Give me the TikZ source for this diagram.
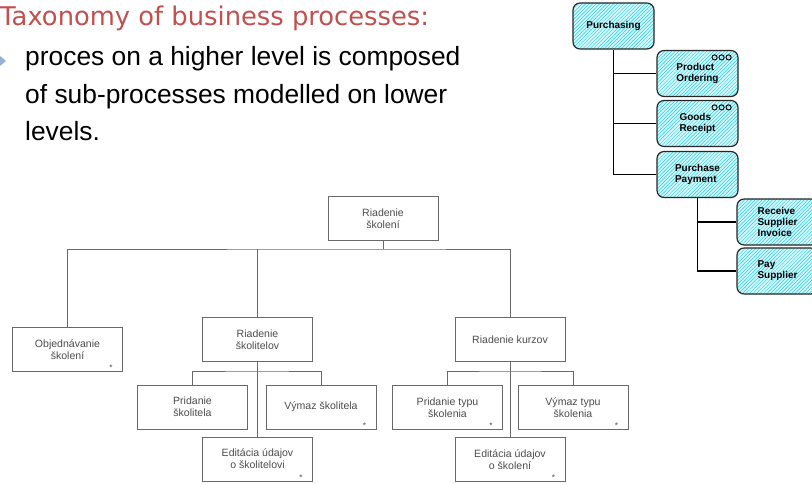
\documentclass[tikz,border=0pt]{standalone}
\usepackage{fontspec}
\setmainfont{Liberation Sans}
\newfontfamily\titlefont{DejaVu Sans}
\usetikzlibrary{patterns}
\definecolor{titlered}{RGB}{192,80,77}
\definecolor{bulletblue}{RGB}{150,178,210}
\definecolor{boxgray}{RGB}{105,105,105}
\definecolor{textgray}{RGB}{75,75,75}
\definecolor{hatchcyan}{RGB}{45,200,225}
\definecolor{palecyan}{RGB}{212,250,252}

\begin{document}
\begin{tikzpicture}[x = 0.03cm, y = -0.03cm,
	proc/.style = {draw = boxgray, line width = 0.7pt, minimum width = 3.3cm, minimum height = 1.32cm, inner sep = 1pt, align = center, text = textgray, font = \fontsize{9}{10}\selectfont},
	marked/.style = {label = {[starnode]south east:*}},
	starnode/.style = {anchor = south east, inner sep = 0pt, xshift = -0.3cm, yshift = 0.03cm, text = textgray, font = \fontsize{7}{7}\selectfont},
	aris/.style = {draw = black!85, line width = 1pt, rounded corners = 6pt, minimum width = 2.43cm, minimum height = 1.38cm, inner sep = 1pt, align = left, font = \bfseries\fontsize{8.5}{9.5}\selectfont, preaction = {fill = palecyan}, pattern = north east lines, pattern color = hatchcyan},
	link/.style = {draw = boxgray, line width = 0.7pt},
	branch/.style = {draw = black, line width = 1.5pt}]
	\useasboundingbox (0, 0) rectangle (812, 484);
%%%%%%%%%%%
	\node[anchor = base west, inner sep = 0pt, text = titlered, font = \titlefont\fontsize{22}{26}\selectfont] (title) at (0, 26) {Taxonomy of business processes:};
	\fill[bulletblue] (0, 56) -- (6, 61) -- (0, 66) -- cycle;
	\node[anchor = base west, inner sep = 0pt, font = \fontsize{22.5}{26}\selectfont] (line1) at (25, 66) {proces on a higher level is composed};
	\node[anchor = base west, inner sep = 0pt, font = \fontsize{22.5}{26}\selectfont] (line2) at (25, 103.5) {of sub-processes modelled on lower};
	\node[anchor = base west, inner sep = 0pt, font = \fontsize{22.5}{26}\selectfont] (line3) at (25, 141) {levels.};
%%%%%%%%%%%
	\node[aris] (buy) at (613.5, 26) {Purchasing};
	\node[aris] (order) at (697.5, 73.5) {Product\\Ordering};
	\node[aris] (goods) at (697.5, 123.5) {Goods\\Receipt};
	\node[aris] (payment) at (697.5, 174.5) {Purchase\\Payment};
	\node[aris] (invoice) at (777.5, 222) {Receive\\Supplier\\Invoice};
	\node[aris] (pay) at (777.5, 271) {Pay\\Supplier};
	\foreach \dx in {-24, -17, -10} {
		\draw[thick] ([shift = {(\dx, 7.5)}]order.north east) circle (2.2pt);
		\draw[thick] ([shift = {(\dx, 7.5)}]goods.north east) circle (2.2pt);
	}
	\draw[branch] (buy.south) |- (payment.west);
	\draw[branch] (buy.south |- order.west) -- (order.west);
	\draw[branch] (buy.south |- goods.west) -- (goods.west);
	\draw[branch] (payment.south) |- (pay.west);
	\draw[branch] (payment.south |- invoice.west) -- (invoice.west);
%%%%%%%%%%%
	\node[proc] (skol) at (383, 218.5) {Riadenie\\školení};
	\node[proc, marked] (objed) at (67.5, 349.5) {Objednávanie\\školení};
	\node[proc] (skolit) at (257.5, 339.5) {Riadenie\\školitelov};
	\node[proc] (kurz) at (510, 339.5) {Riadenie kurzov};
	\node[proc] (prid1) at (192.5, 407) {Pridanie\\školitela};
	\node[proc, marked] (vymaz1) at (321, 407) {Výmaz školitela};
	\node[proc, marked] (edit1) at (257.5, 459) {Editácia údajov\\o školitelovi};
	\node[proc, marked] (prid2) at (447.5, 407.5) {Pridanie typu\\školenia};
	\node[proc, marked] (vymaz2) at (573, 407.5) {Výmaz typu\\školenia};
	\node[proc, marked] (edit2) at (510, 459.5) {Editácia údajov\\o školení};
	\coordinate (bus) at (383, 249);
	\coordinate (sub1) at (257.5, 371);
	\coordinate (sub2) at (510, 371);
	\draw[link] (skol) -- (bus);
	\draw[link] (objed.north) |- (bus) -| (kurz.north);
	\draw[link] (skolit.north) -- (skolit.north |- bus);
	\draw[link] (prid1.north) |- (sub1) -| (vymaz1.north);
	\draw[link] (skolit) -- (edit1);
	\draw[link] (prid2.north) |- (sub2) -| (vymaz2.north);
	\draw[link] (kurz) -- (edit2);
\end{tikzpicture}
\end{document}
